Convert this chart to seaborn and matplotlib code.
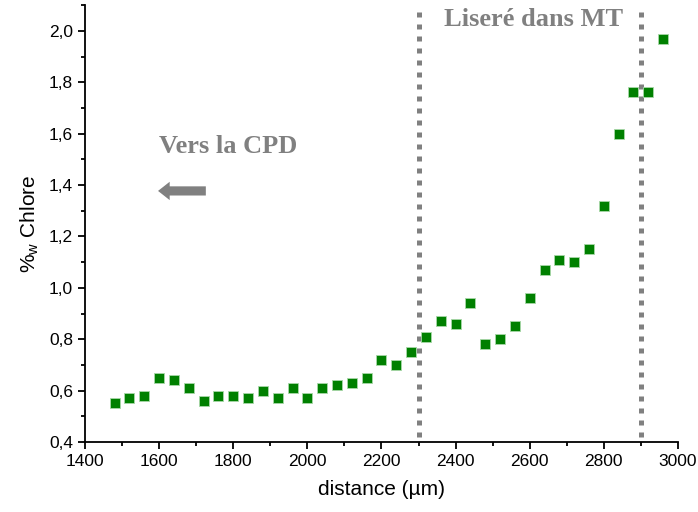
import numpy as np
import pandas as pd
import matplotlib
matplotlib.use("Agg")
import matplotlib.pyplot as plt
import seaborn as sns
from matplotlib.ticker import MultipleLocator, FuncFormatter

# data
distance = [1480, 1520, 1560, 1600, 1640, 1680, 1720, 1760, 1800, 1840,
            1880, 1920, 1960, 2000, 2040, 2080, 2120, 2160, 2200, 2240,
            2280, 2320, 2360, 2400, 2440, 2480, 2520, 2560, 2600, 2640,
            2680, 2720, 2760, 2800, 2840, 2880, 2920, 2960]
chlore = [0.55, 0.57, 0.58, 0.65, 0.64, 0.61, 0.56, 0.58, 0.58, 0.57,
          0.60, 0.57, 0.61, 0.57, 0.61, 0.62, 0.63, 0.65, 0.72, 0.70,
          0.75, 0.81, 0.87, 0.86, 0.94, 0.78, 0.80, 0.85, 0.96, 1.07,
          1.11, 1.10, 1.15, 1.32, 1.60, 1.76, 1.76, 1.97]
boundaries = [2300, 2900]

df = pd.DataFrame({"distance": distance, "chlore": chlore})

sns.set_theme(style="ticks")
plt.rcParams["font.family"] = ["Liberation Sans", "DejaVu Sans"]
plt.rcParams["mathtext.fontset"] = "custom"
plt.rcParams["mathtext.rm"] = "Liberation Sans"

fig = plt.figure(figsize=(6.98, 5.12), dpi=100)
ax = fig.add_axes([0.1218, 0.1367, 0.8495, 0.8533])

# dotted boundary lines
for b in boundaries:
    ax.plot([b, b], [0.42, 2.075], color="#808080", lw=3.6, ls=(0, (1, 1.4)),
            solid_capstyle="butt", dash_capstyle="butt", zorder=1)

sns.scatterplot(data=df, x="distance", y="chlore", ax=ax, marker="s", s=62,
                color="#008000", edgecolor="#a8d8a8", linewidth=0.6, zorder=3)

ax.set_xlim(1400, 3000)
ax.set_ylim(0.4, 2.1)
ax.xaxis.set_major_locator(MultipleLocator(200))
ax.xaxis.set_minor_locator(MultipleLocator(100))
ax.yaxis.set_major_locator(MultipleLocator(0.2))
ax.yaxis.set_minor_locator(MultipleLocator(0.1))
ax.yaxis.set_major_formatter(FuncFormatter(lambda v, p: f"{v:.1f}".replace(".", ",")))
ax.tick_params(which="major", direction="out", length=5, width=1.3,
               labelsize=12.5, color="black", labelcolor="black")
ax.tick_params(which="minor", direction="out", length=3, width=1.3, color="black")
for s in ["left", "bottom"]:
    ax.spines[s].set_linewidth(1.3)
    ax.spines[s].set_color("black")
sns.despine(ax=ax)

ax.set_xlabel("distance (µm)", fontsize=15, color="black", labelpad=8)
ax.set_ylabel(r"%$_\mathrm{w}$ Chlore", fontsize=15, color="black", labelpad=6)

# annotations
ax.text(2611, 2.045, "Liseré dans MT", family="Liberation Serif", weight="bold",
        fontsize=19, color="#808080", ha="center", va="center")
ax.text(1786, 1.55, "Vers la CPD", family="Liberation Serif", weight="bold",
        fontsize=19, color="#808080", ha="center", va="center")
ax.annotate("", xy=(1597, 1.377), xytext=(1726, 1.377),
            arrowprops=dict(arrowstyle="simple,head_length=0.7,head_width=1.1,tail_width=0.55",
                            color="#808080", lw=0, shrinkA=0, shrinkB=0))

fig.savefig("out.png", dpi=100)
